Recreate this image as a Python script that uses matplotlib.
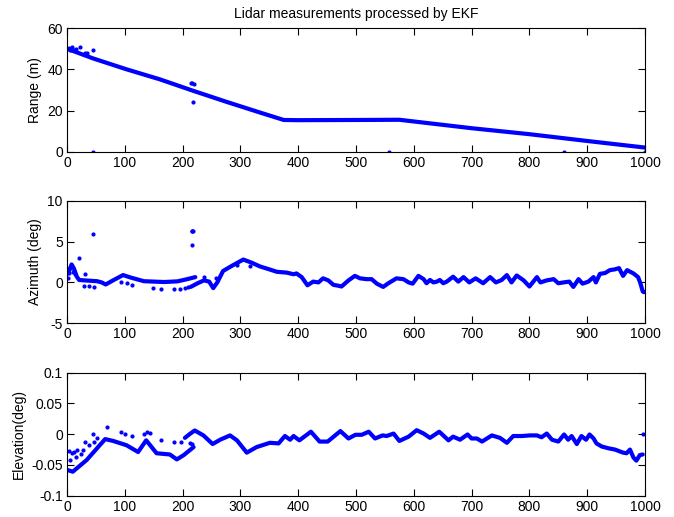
import matplotlib
matplotlib.use("Agg")
import matplotlib.pyplot as plt

plt.rcParams['font.family'] = ['Liberation Sans', 'DejaVu Sans']
plt.rcParams['font.size'] = 10
plt.rcParams['axes.unicode_minus'] = False

# ---- data (sample index, value) ----
range_track = [(0, 50), (45, 45.3), (103, 40), (161, 35.1), (219, 29.5), (276, 24.2),
               (334, 19.0), (375, 15.4), (400, 15.3), (500, 15.4), (575, 15.5),
               (700, 11.4), (800, 8.5), (900, 5.2), (1000, 2.0)]
range_outliers = [(3, 50.5), (6, 49.5), (9, 50.8), (12, 49.2), (15, 50), (22, 51),
                  (32, 48), (35, 47.8), (45, 49.4), (215, 33.5), (217, 33.2),
                  (219, 33), (218, 24.3), (45, 0), (557, 0), (860, 0), (1000, 0)]

az_track1 = [(0, 1.0), (4, 1.5), (8, 2.2), (12, 1.7), (17, 0.7), (21, 0.3), (30, 0.25),
             (52, 0.15), (60, 0.0), (67, -0.25), (81, 0.3), (97, 0.9), (110, 0.6),
             (133, 0.15), (168, 0.05), (191, 0.13), (208, 0.4), (222, 0.65)]
az_track2 = [(214, -0.55), (226, -0.1), (237, 0.25), (246, 0.1), (253, -0.7), (260, 0.0),
             (270, 1.4), (287, 2.1), (305, 2.8), (320, 2.4), (334, 1.95), (350, 1.6),
             (363, 1.3), (380, 1.2), (392, 1.0), (397, 1.1), (406, 0.65), (416, -0.35),
             (426, 0.1), (435, 0.0), (443, 0.5), (452, 0.25), (461, -0.3), (469, -0.4),
             (475, -0.5), (487, 0.25), (498, 0.8), (507, 0.5), (518, 0.4), (527, 0.4),
             (536, -0.15), (547, -0.55), (556, -0.1), (570, 0.5), (582, 0.4), (591, 0.0),
             (598, -0.15), (608, 0.8), (617, 0.4), (622, -0.1), (628, 0.3), (634, 0.0),
             (640, 0.1), (645, 0.3), (651, -0.1), (657, 0.1), (668, 0.7), (677, 0.1),
             (686, 0.65), (696, 0.0), (707, 0.5), (720, -0.1), (732, 0.65), (742, 0.0),
             (752, 0.3), (761, 0.9), (769, 0.0), (778, 0.85), (790, 0.25), (800, -0.5),
             (813, 0.65), (819, 0.0), (830, 0.25), (842, 0.4), (850, -0.1), (859, 0.0),
             (869, 0.1), (876, -0.55), (885, 0.4), (892, -0.15), (902, 0.1), (911, 0.65),
             (915, 0.0), (922, 1.05), (931, 1.15), (939, 1.5), (948, 1.6), (955, 1.75),
             (962, 0.8), (969, 1.5), (980, 1.1), (988, 0.65), (992, -0.1), (996, -1.1),
             (998, -1.2)]
az_outliers = [(2, 0.5), (4, 1.2), (6, 1.8), (10, 1.3), (14, 1.0), (21, 3.0), (32, 1.0),
               (29, -0.4), (38, -0.4), (47, -0.5), (45.5, 5.9), (93, 0.1), (104, -0.1),
               (113, -0.3), (148, -0.65), (162, -0.75), (185, -0.8), (196, -0.75),
               (205, -0.65), (210, -0.6), (215.5, 6.3), (217, 6.3), (218.5, 6.3),
               (217, 4.6), (237, 0.7), (257, 0.6), (294, 2.1), (317, 1.95)]

el_track1 = [(0, -0.058), (10, -0.061), (34, -0.042), (66, -0.008), (80, -0.011),
             (103, -0.018), (123, -0.029), (137, -0.010), (155, -0.031), (178, -0.033),
             (190, -0.041), (202, -0.034), (219, -0.021)]
el_track2 = [(204, -0.006), (212, 0.0), (221, 0.006), (236, -0.002), (252, -0.016),
             (265, -0.009), (282, -0.002), (294, -0.010), (311, -0.030), (328, -0.021),
             (351, -0.014), (366, -0.015), (377, -0.003), (386, -0.009), (392, -0.003),
             (402, -0.010), (422, 0.004), (437, -0.012), (451, -0.012), (473, 0.005),
             (487, -0.007), (499, -0.001), (510, -0.001), (522, 0.004), (533, -0.007),
             (546, -0.002), (553, -0.003), (565, 0.001), (575, -0.011), (591, -0.004),
             (605, 0.0065), (617, 0.001), (628, -0.006), (644, 0.004), (660, -0.010),
             (668, -0.004), (680, -0.009), (693, -0.0005), (700, -0.007), (709, -0.007),
             (718, -0.012), (735, -0.002), (749, -0.006), (761, -0.014), (772, -0.003),
             (787, -0.003), (801, -0.002), (813, -0.002), (821, -0.005), (830, 0.001),
             (839, -0.009), (850, -0.012), (860, -0.0005), (867, -0.009), (873, -0.003),
             (882, -0.016), (890, -0.003), (898, -0.009), (904, -0.0005), (911, -0.007),
             (916, -0.015), (925, -0.020), (937, -0.023), (948, -0.025), (962, -0.030),
             (968, -0.031), (974, -0.025), (980, -0.038), (985, -0.043), (991, -0.034),
             (996, -0.033)]
el_outliers = [(3, -0.027), (8, -0.030), (12, -0.029), (18, -0.026), (6, -0.042),
               (15, -0.037), (24, -0.032), (28, -0.025), (32, -0.013), (38, -0.018),
               (45, 0.0), (47, -0.013), (52, -0.007), (70, 0.012), (93, 0.004),
               (101, 0.001), (113, -0.003), (133, 0.001), (138, 0.003), (143, 0.002),
               (162, -0.010), (185, -0.012), (197, -0.012), (213, -0.015), (216, -0.016),
               (996, 0.0)]

xticks = list(range(0, 1001, 100))
range_ticks = [0, 20, 40, 60]
az_ticks = [-5, 0, 5, 10]
el_ticks = [-0.1, -0.05, 0, 0.05, 0.1]
el_ticklabels = ['-0.1', '-0.05', '0', '0.05', '0.1']


def draw(ax, tracks, outliers):
    for tr in tracks:
        xs, ys = zip(*tr)
        ax.plot(xs, ys, color='blue', lw=3, solid_capstyle='round')
    xs, ys = zip(*outliers)
    ax.plot(xs, ys, '.', color='blue', markersize=4, linestyle='none')


def style(ax):
    ax.set_xlim(0, 1000)
    ax.set_xticks(xticks)
    ax.tick_params(direction='in', top=True, right=True, length=5, width=0.8, pad=3)
    for s in ax.spines.values():
        s.set_linewidth(0.8)


fig = plt.figure(figsize=(6.74, 5.17), dpi=100)
ax1 = fig.add_axes([0.0994, 0.7066, 0.8576, 0.239])
ax2 = fig.add_axes([0.0994, 0.3747, 0.8576, 0.2371])
ax3 = fig.add_axes([0.0994, 0.0412, 0.8576, 0.238])

draw(ax1, [range_track], range_outliers)
style(ax1)
ax1.set_ylim(0, 60)
ax1.set_yticks(range_ticks)
ax1.set_ylabel('Range (m)')
ax1.set_title('Lidar measurements processed by EKF', fontsize=10, pad=7)

draw(ax2, [az_track1, az_track2], az_outliers)
style(ax2)
ax2.set_ylim(-5, 10)
ax2.set_yticks(az_ticks)
ax2.set_ylabel('Azimuth (deg)')

draw(ax3, [el_track1, el_track2], el_outliers)
style(ax3)
ax3.set_ylim(-0.1, 0.1)
ax3.set_yticks(el_ticks)
ax3.set_yticklabels(el_ticklabels)
ax3.set_ylabel('Elevation(deg)')

fig.savefig('out.png', dpi=100)
